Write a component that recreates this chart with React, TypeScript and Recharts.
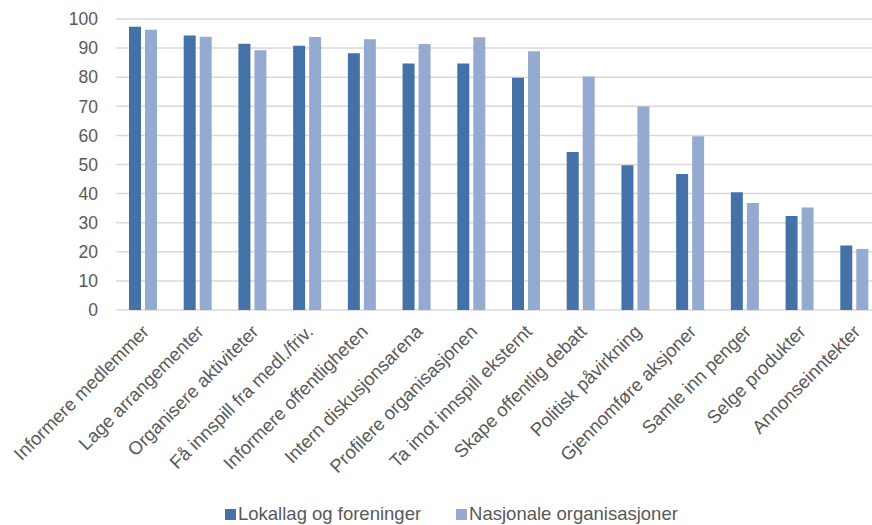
import { BarChart, Bar, XAxis, YAxis, CartesianGrid, Legend } from 'recharts';

const categories = [
  'Informere medlemmer',
  'Lage arrangementer',
  'Organisere aktiviteter',
  'Få innspill fra medl./friv.',
  'Informere offentligheten',
  'Intern diskusjonsarena',
  'Profilere organisasjonen',
  'Ta imot innspill eksternt',
  'Skape offentlig debatt',
  'Politisk påvirkning',
  'Gjennomføre aksjoner',
  'Samle inn penger',
  'Selge produkter',
  'Annonseinntekter',
];

const lokallag = [97.3, 94.3, 91.5, 90.8, 88.2, 84.7, 84.7, 79.8, 54.3, 49.7, 46.7, 40.5, 32.3, 22.2];
const nasjonale = [96.3, 93.9, 89.3, 93.8, 93.0, 91.4, 93.7, 88.9, 80.2, 69.9, 59.7, 36.8, 35.2, 21.0];

const yTicks = [0, 10, 20, 30, 40, 50, 60, 70, 80, 90, 100];

const DARK = '#4472a8';
const LIGHT = '#95aad1';
const TEXT = '#595959';

const data = categories.map((name, i) => ({
  name,
  lokallag: lokallag[i],
  nasjonale: nasjonale[i],
}));

// rotated category labels, ending at the category centre
const AngledTick = (props: any) => {
  const { x, y, payload } = props;
  return (
    <g transform={`translate(${x + 4},${y + 12})`}>
      <text x={0} y={0} dy={4} textAnchor="end" transform="rotate(-45)" fill={TEXT} fontSize={18.5}>
        {payload.value}
      </text>
    </g>
  );
};

const LegendContent = () => (
  <div style={{ display: 'flex', paddingLeft: 225, paddingTop: 8, fontSize: 18.5, color: TEXT, lineHeight: '20px' }}>
    <div style={{ display: 'flex', alignItems: 'center', marginRight: 35 }}>
      <span style={{ width: 11, height: 11, background: DARK, display: 'inline-block', marginRight: 2 }} />
      Lokallag og foreninger
    </div>
    <div style={{ display: 'flex', alignItems: 'center' }}>
      <span style={{ width: 11, height: 11, background: LIGHT, display: 'inline-block', marginRight: 2 }} />
      Nasjonale organisasjoner
    </div>
  </div>
);

export default function App() {
  return (
    <div
      style={{
        position: 'absolute',
        left: 0,
        top: 0,
        width: 872,
        height: 525,
        overflow: 'hidden',
        background: '#fff',
        fontFamily: '"Liberation Sans", Arial, sans-serif',
      }}
    >
      <BarChart
        width={884}
        height={525}
        data={data}
        margin={{ top: 19, right: 2, bottom: 0, left: 0 }}
        barSize={12}
        barGap={4}
      >
        <CartesianGrid vertical={false} stroke="#d9d9d9" strokeWidth={1.5} />
        <XAxis
          dataKey="name"
          axisLine={false}
          tickLine={false}
          interval={0}
          height={186}
          tick={<AngledTick />}
        />
        <YAxis
          domain={[0, 100]}
          ticks={yTicks}
          axisLine={false}
          tickLine={false}
          width={116}
          tickMargin={12}
          tick={{ fill: TEXT, fontSize: 17.5 }}
          interval={0}
        />
        <Legend
          verticalAlign="bottom"
          content={<LegendContent />}
          wrapperStyle={{ left: 0, width: 884, bottom: 0, height: 29 }}
        />
        <Bar dataKey="lokallag" name="Lokallag og foreninger" fill={DARK} isAnimationActive={false} />
        <Bar dataKey="nasjonale" name="Nasjonale organisasjoner" fill={LIGHT} isAnimationActive={false} />
      </BarChart>
    </div>
  );
}
